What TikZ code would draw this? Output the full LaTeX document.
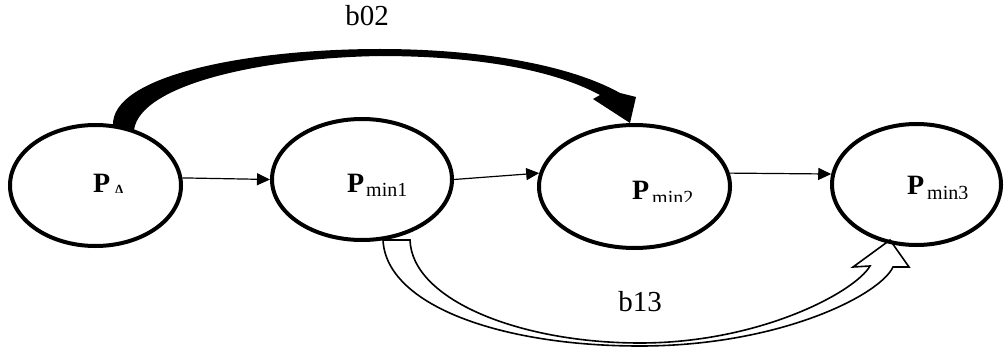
\documentclass[tikz,border=0pt]{standalone}
\usepackage{fontspec}
\setmainfont{Liberation Serif}
\usetikzlibrary{arrows.meta,calc,shapes.geometric,backgrounds}

\tikzset{
  state/.style={ellipse,draw,line width=4pt,inner sep=0pt},
  link/.style={line width=1.2pt,-{Triangle[length=13pt,width=12pt]}},
  pmain/.style={anchor=base west,inner sep=0pt,font=\fontsize{28}{30}\selectfont\bfseries},
  psub/.style={anchor=base west,inner sep=0pt,font=\fontsize{20}{22}\selectfont},
  edgelabel/.style={inner sep=0pt,font=\fontsize{29}{31}\selectfont},
  hollow/.style={line width=1.6pt,fill=white,line join=miter}
}

\begin{document}
\begin{tikzpicture}[x=1pt,y=-1pt]
\useasboundingbox (0,0) rectangle (1006,350);

% states
\node[state,minimum width=171pt,minimum height=121pt] (A)  at (95.5,185.5) {};
\node[state,minimum width=180pt,minimum height=121pt] (m1) at (362,179.5) {};
\node[state,minimum width=191pt,minimum height=123pt] (m2) at (634.5,186.5) {};
\node[state,minimum width=169pt,minimum height=121pt] (m3) at (916.5,184.5) {};

% state labels (subscripts cut at the lower edge)
\begin{scope}
  \clip (80,150) rectangle (140,192);
  \node[pmain] (tA) at (93,192) {P};
  \node[psub]  (sA) at (112,198) {A};
\end{scope}
\begin{scope}
  \clip (330,150) rectangle (420,195);
  \node[pmain] (t1) at (347,192) {P};
  \node[psub]  (s1) at (366,196) {min1};
\end{scope}
\begin{scope}
  \clip (610,150) rectangle (710,201);
  \node[pmain] (t2) at (632,199) {P};
  \node[psub]  (s2) at (652,204) {min2};
\end{scope}
\begin{scope}
  \clip (890,150) rectangle (990,198);
  \node[pmain] (t3) at (907,194) {P};
  \node[psub]  (s3) at (927,199) {min3};
\end{scope}

% chain of transitions
\draw[link] (A.5)   -- (m1.west);
\draw[link] (m1.east) -- (m2.172);
\draw[link] (m2.8)  -- (m3.173);

% end points of the two long transitions
\coordinate (b02s)   at ($(A.north)+(17.5,3)$);
\coordinate (b02e)   at ($(A.north)+(38.5,7)$);
\coordinate (b02tip) at ($(m2.north)+(-4.5,0)$);
\coordinate (b13a)   at ($(m1.south)+(21,-2)$);
\coordinate (b13b)   at ($(m1.south)+(48,-2)$);
\coordinate (b13tip) at ($(m3.south)+(-26.5,-7)$);

\begin{scope}[on background layer]
  % tapered arrow b02
  \fill (b02s) .. controls (110,75) and (250,49) .. (380,49)
        .. controls (480,49) and (570,65) .. (620,93)
        -- (636,97) -- (b02tip) -- (593,99) -- (600,95)
        .. controls (550,68) and (470,56) .. (380,56)
        .. controls (260,58) and (140,85) .. (b02e) -- cycle;
  % hollow arrow b13
  \draw[hollow] (b13a) .. controls (386,305) and (500,346) .. (640,346)
        .. controls (780,346) and (880,295) .. (893,267)
        -- (909,267) -- (b13tip) -- (853,267) -- (870,266)
        .. controls (855,292) and (760,343) .. (640,343)
        .. controls (520,343) and (412,300) .. (b13b) -- cycle;
\end{scope}

\node[edgelabel] (lb02) at (367,16) {b02};
\node[edgelabel] (lb13) at (640,302) {b13};
\end{tikzpicture}
\end{document}
